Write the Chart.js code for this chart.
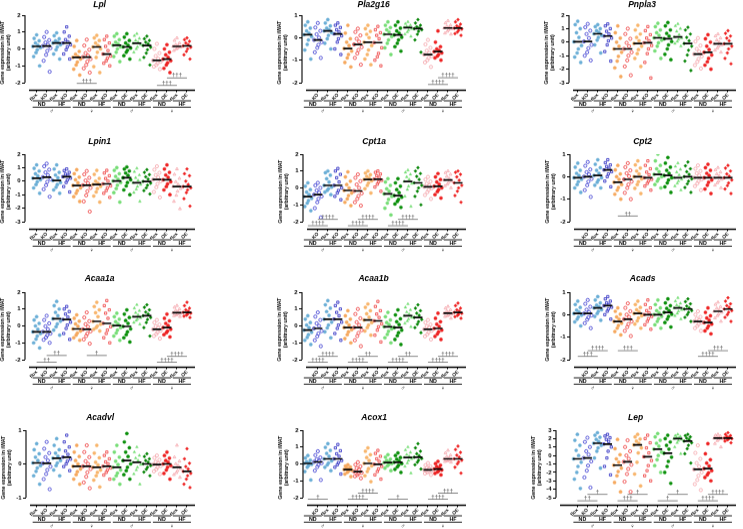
<!DOCTYPE html>
<html>
<head>
<meta charset="utf-8">
<script src="https://cdn.jsdelivr.net/npm/chart.js@4"></script>
<style>
  body { margin: 0; width: 743px; height: 529px; overflow: hidden; background: #fff; position: relative; }
</style>
</head>
<body>
<script>
// categories
const groupLabels = ['flox','KO','flox','KO','flox','KO','flox','KO','flox','OE','flox','OE','flox','OE','flox','OE'];
const dietLabels = ['ND', 'HF'];
const sexLabels = ['\u2642', '\u2640'];

// Lpl
const lplPts = [
  [0.83,0.62,0.48,0.35,0.22,0.15,0.08,-0.05,-0.22,-0.45,-1.0],
  [1.0,0.7,0.52,0.38,0.25,0.17,0.05,-0.12,-0.35,-0.7,-1.35],
  [0.95,0.78,0.6,0.48,0.4,0.35,0.25,0.12,-0.05,-0.3,-0.6],
  [1.3,1.0,0.75,0.55,0.42,0.35,0.25,0.12,-0.05,-0.3,-0.6],
  [0.5,0.15,-0.15,-0.32,-0.45,-0.5,-0.6,-0.78,-0.95,-1.2,-1.55],
  [0.55,0.2,-0.05,-0.25,-0.4,-0.48,-0.6,-0.75,-0.95,-1.15,-1.4],
  [0.8,0.65,0.5,0.35,0.2,0.12,0.0,-0.2,-0.5,-1.05,-1.4],
  [0.75,0.55,0.35,0.15,-0.1,-0.3,-0.42,-0.55,-0.7,-0.85,-1.0],
  [0.9,0.75,0.55,0.4,0.3,0.22,0.12,0.0,-0.2,-0.45,-0.75],
  [0.9,0.7,0.5,0.35,0.22,0.12,0.05,-0.08,-0.2,-0.4,-0.6],
  [0.9,0.78,0.62,0.5,0.4,0.33,0.25,0.12,0.0,-0.2,-0.65],
  [0.75,0.6,0.5,0.4,0.3,0.2,0.1,-0.05,-0.25,-0.5,-0.95],
  [0.3,0.0,-0.25,-0.42,-0.58,-0.68,-0.75,-0.85,-0.95,-1.05,-1.2],
  [0.25,0.0,-0.2,-0.35,-0.5,-0.6,-0.7,-0.82,-0.95,-1.15,-1.4],
  [0.65,0.5,0.35,0.25,0.18,0.15,0.1,0.05,0.0,-0.1],
  [0.65,0.55,0.45,0.35,0.25,0.18,0.1,0.0,-0.15,-0.35,-0.6]
];
const lplMed = [0.15,0.17,0.35,0.35,-0.5,-0.48,0.12,-0.3,0.22,0.12,0.33,0.2,-0.68,-0.6,0.15,0.18];
const lplSig = [[4,6,-2.04,'†††'],[12,14,-2.16,'†††'],[13,15,-1.72,'†††']];

// Pla2g16
const pla2g16Pts = [
  [0.7,0.55,0.42,0.3,0.2,0.13,0.05,-0.1,-0.3,-0.55,-0.95],
  [0.65,0.45,0.3,0.15,0.0,-0.1,-0.2,-0.32,-0.45,-0.65,-0.9],
  [0.8,0.65,0.52,0.42,0.35,0.3,0.22,0.1,-0.05,-0.25,-0.5],
  [0.65,0.55,0.45,0.35,0.25,0.17,0.08,-0.05,-0.2,-0.5,-0.75],
  [0.55,0.2,-0.05,-0.2,-0.35,-0.48,-0.6,-0.75,-0.9,-1.1,-1.3],
  [0.4,0.25,0.1,-0.05,-0.18,-0.3,-0.42,-0.55,-0.7,-0.9,-1.2],
  [0.55,0.4,0.28,0.15,0.0,-0.2,-0.35,-0.55,-0.75,-0.95,-1.2],
  [0.5,0.35,0.22,0.1,-0.05,-0.22,-0.45,-0.7,-0.85,-1.0,-1.25],
  [0.7,0.55,0.45,0.35,0.25,0.15,0.05,-0.1,-0.25,-0.45,-0.75],
  [0.7,0.55,0.42,0.3,0.2,0.12,0.02,-0.1,-0.25,-0.4,-0.6],
  [0.7,0.62,0.55,0.5,0.47,0.45,0.4,0.33,0.25,0.15,0.05],
  [0.8,0.65,0.55,0.48,0.43,0.4,0.35,0.28,0.15,-0.1,-0.65],
  [-0.1,-0.3,-0.45,-0.58,-0.68,-0.75,-0.82,-0.9,-1.0,-1.1,-1.3],
  [0.3,-0.2,-0.4,-0.5,-0.57,-0.62,-0.68,-0.75,-0.82,-0.9,-1.0],
  [0.75,0.65,0.55,0.5,0.45,0.43,0.4,0.35,0.28,0.2,0.15],
  [0.8,0.7,0.6,0.52,0.47,0.42,0.38,0.32,0.25,0.18,0.1]
];
const pla2g16Med = [0.13,-0.1,0.3,0.17,-0.48,-0.3,-0.2,-0.22,0.15,0.12,0.45,0.4,-0.75,-0.62,0.43,0.42];
const pla2g16Sig = [[12,14,-2.08,'††††'],[13,15,-1.78,'††††']];

// Pnpla3
const pnpla3Pts = [
  [1.55,1.3,1.0,0.7,0.35,0.03,-0.25,-0.5,-0.8,-1.1,-1.5],
  [1.35,1.1,0.85,0.6,0.3,0.05,-0.2,-0.45,-0.75,-1.0,-1.35],
  [1.3,1.15,1.0,0.85,0.72,0.62,0.5,0.35,0.15,-0.2,-0.8],
  [1.35,1.2,1.0,0.8,0.6,0.45,0.3,0.1,-0.2,-0.7,-1.4],
  [1.2,0.7,0.3,0.0,-0.3,-0.5,-0.75,-1.05,-1.4,-1.9,-2.55],
  [1.0,0.6,0.25,-0.05,-0.3,-0.5,-0.75,-1.0,-1.35,-1.8,-2.45],
  [1.25,0.9,0.6,0.35,0.1,-0.1,-0.3,-0.55,-0.85,-1.2,-1.8],
  [1.15,0.85,0.55,0.3,0.1,-0.05,-0.25,-0.5,-0.85,-1.5,-2.65],
  [1.4,1.15,0.9,0.7,0.5,0.32,0.15,-0.05,-0.3,-0.65,-1.2],
  [1.45,1.2,0.9,0.65,0.45,0.25,0.05,-0.2,-0.5,-0.9,-1.3],
  [1.35,1.2,1.0,0.8,0.55,0.38,0.3,0.2,0.05,-0.1,-0.3],
  [1.1,0.9,0.6,0.35,0.1,-0.1,-0.3,-0.6,-0.95,-1.4,-2.1],
  [0.3,0.05,-0.25,-0.5,-0.7,-0.88,-1.05,-1.25,-1.45,-1.7,-1.95],
  [0.55,0.25,0.0,-0.3,-0.55,-0.75,-0.95,-1.2,-1.45,-1.7,-2.0],
  [0.6,0.45,0.3,0.15,0.0,-0.12,-0.2,-0.3,-0.45,-0.6,-0.75],
  [0.85,0.65,0.45,0.3,0.1,-0.12,-0.3,-0.5,-0.8,-1.2,-1.6]
];
const pnpla3Med = [0.03,0.05,0.62,0.45,-0.5,-0.5,-0.1,-0.05,0.32,0.25,0.38,-0.1,-0.88,-0.75,-0.12,-0.12];
const pnpla3Sig = [];

// Lpin1
const lpin1Pts = [
  [1.2,0.95,0.75,0.55,0.38,0.22,0.1,-0.05,-0.25,-0.5,-0.9],
  [1.3,1.1,0.85,0.65,0.45,0.3,0.15,-0.05,-0.3,-0.6,-1.15],
  [1.2,0.9,0.65,0.45,0.25,0.05,-0.1,-0.25,-0.45,-0.65,-0.9],
  [0.9,0.78,0.65,0.52,0.42,0.33,0.22,0.08,-0.1,-0.4,-0.8],
  [0.85,0.55,0.3,0.1,-0.12,-0.32,-0.5,-0.7,-0.9,-1.15,-1.5],
  [0.75,0.5,0.25,0.05,-0.15,-0.3,-0.5,-0.75,-1.05,-1.5,-2.25],
  [0.8,0.5,0.2,0.0,-0.15,-0.25,-0.38,-0.55,-0.8,-1.1,-1.55],
  [0.8,0.6,0.4,0.2,0.0,-0.2,-0.35,-0.5,-0.7,-0.9,-1.2],
  [1.0,0.8,0.55,0.35,0.15,0.02,-0.1,-0.3,-0.55,-0.85,-1.55],
  [1.05,0.9,0.75,0.6,0.42,0.25,0.1,-0.1,-0.35,-0.65,-1.0],
  [0.95,0.7,0.45,0.25,0.05,-0.12,-0.25,-0.4,-0.6,-0.85,-1.5],
  [0.85,0.65,0.48,0.32,0.15,-0.02,-0.15,-0.3,-0.5,-0.7,-0.95],
  [1.1,0.85,0.62,0.45,0.28,0.12,0.0,-0.2,-0.45,-0.8,-1.2],
  [1.2,0.9,0.65,0.45,0.28,0.1,-0.05,-0.2,-0.4,-0.65,-1.0],
  [0.9,0.5,0.2,-0.05,-0.25,-0.4,-0.55,-0.75,-1.05,-1.5,-2.05],
  [0.9,0.55,0.4,0.0,-0.25,-0.4,-0.5,-0.65,-0.85,-1.3,-1.85]
];
const lpin1Med = [0.22,0.3,0.05,0.33,-0.32,-0.3,-0.25,-0.2,0.02,0.25,-0.12,-0.02,0.12,0.1,-0.4,-0.4];
const lpin1Sig = [];

// Cpt1a
const cpt1aPts = [
  [0.3,0.1,-0.1,-0.25,-0.4,-0.52,-0.62,-0.75,-0.9,-1.1,-1.35],
  [0.3,0.15,0.0,-0.15,-0.28,-0.4,-0.5,-0.65,-0.85,-1.2,-1.75],
  [1.0,0.9,0.75,0.55,0.35,0.15,0.05,-0.05,-0.15,-0.25,-0.4],
  [1.15,1.0,0.8,0.6,0.35,0.15,0.0,-0.15,-0.3,-0.5,-0.7],
  [0.95,0.65,0.4,0.2,0.0,-0.15,-0.3,-0.45,-0.65,-0.85,-1.05],
  [0.8,0.6,0.4,0.2,0.0,-0.18,-0.32,-0.48,-0.65,-0.85,-1.05],
  [1.0,0.88,0.78,0.68,0.58,0.5,0.42,0.3,0.15,-0.05,-0.3],
  [1.0,0.92,0.82,0.72,0.62,0.52,0.45,0.35,0.22,0.05,-0.2],
  [0.55,0.35,0.15,-0.05,-0.2,-0.35,-0.5,-0.68,-0.9,-1.2,-1.6],
  [0.55,0.3,0.1,-0.1,-0.28,-0.45,-0.55,-0.68,-0.8,-0.95,-1.15],
  [1.05,0.92,0.8,0.65,0.5,0.38,0.25,0.1,-0.1,-0.5,-1.1],
  [1.2,1.0,0.85,0.68,0.5,0.3,0.15,0.0,-0.2,-0.5,-1.0],
  [0.65,0.5,0.38,0.25,0.15,0.07,-0.02,-0.12,-0.25,-0.42,-0.65],
  [0.85,0.65,0.5,0.35,0.22,0.1,0.0,-0.1,-0.22,-0.4,-0.6],
  [1.0,0.9,0.8,0.68,0.55,0.47,0.4,0.32,0.22,0.12,0.0],
  [1.0,0.92,0.8,0.65,0.45,0.3,0.15,0.0,-0.2,-0.45,-0.85]
];
const cpt1aMed = [-0.52,-0.4,0.15,0.15,-0.15,-0.18,0.5,0.52,-0.35,-0.45,0.38,0.3,0.07,0.1,0.47,0.3];
const cpt1aSig = [[1,3,-1.86,'††††'],[0,2,-2.24,'††††'],[5,7,-1.86,'††††'],[4,6,-2.24,'††††'],[9,11,-1.86,'††††'],[8,10,-2.24,'††††']];

// Cpt2
const cpt2Pts = [
  [0.6,0.42,0.28,0.15,0.05,-0.05,-0.12,-0.22,-0.35,-0.5,-0.7],
  [0.65,0.48,0.32,0.2,0.1,0.0,-0.1,-0.22,-0.38,-0.6,-0.9],
  [0.75,0.55,0.4,0.28,0.15,0.05,-0.05,-0.15,-0.25,-0.38,-0.5],
  [0.75,0.62,0.52,0.45,0.37,0.3,0.22,0.12,0.0,-0.2,-0.45],
  [0.5,0.3,0.12,0.0,-0.12,-0.25,-0.35,-0.48,-0.6,-0.78,-1.0],
  [0.6,0.42,0.28,0.15,0.02,-0.12,-0.22,-0.35,-0.5,-0.72,-1.0],
  [0.7,0.52,0.38,0.25,0.12,0.0,-0.1,-0.22,-0.35,-0.52,-0.75],
  [0.7,0.5,0.35,0.2,0.08,-0.05,-0.12,-0.2,-0.3,-0.42,-0.6],
  [1.0,0.7,0.5,0.35,0.22,0.1,0.0,-0.1,-0.2,-0.35,-0.5],
  [0.85,0.6,0.42,0.28,0.15,0.05,-0.05,-0.15,-0.28,-0.45,-0.7],
  [0.6,0.45,0.32,0.2,0.07,-0.05,-0.12,-0.2,-0.3,-0.42,-0.6],
  [0.65,0.48,0.35,0.22,0.1,0.0,-0.1,-0.2,-0.32,-0.48,-0.7],
  [0.5,0.35,0.25,0.15,0.05,-0.05,-0.12,-0.2,-0.3,-0.42,-0.6],
  [0.55,0.4,0.28,0.15,0.05,-0.05,-0.15,-0.25,-0.38,-0.55,-0.75],
  [0.4,0.3,0.2,0.12,0.03,-0.05,-0.12,-0.2,-0.28,-0.38,-0.5],
  [0.5,0.38,0.25,0.12,0.02,-0.05,-0.15,-0.28,-0.4,-0.55,-0.75]
];
const cpt2Med = [-0.05,0.0,0.05,0.3,-0.25,-0.12,0.0,-0.05,0.1,0.05,-0.05,0.0,-0.05,-0.05,-0.05,-0.05];
const cpt2Sig = [[4,6,-1.75,'††']];

// Acaa1a
const acaa1aPts = [
  [0.55,0.35,0.15,0.0,-0.2,-0.35,-0.45,-0.6,-0.78,-1.0,-1.3],
  [0.6,0.35,0.15,-0.02,-0.2,-0.35,-0.45,-0.55,-0.68,-0.82,-1.0],
  [1.45,1.2,1.0,0.8,0.6,0.42,0.28,0.12,-0.05,-0.25,-0.55],
  [1.15,1.0,0.85,0.7,0.52,0.38,0.22,0.05,-0.15,-0.45,-0.8],
  [0.65,0.45,0.28,0.12,-0.02,-0.18,-0.3,-0.42,-0.55,-0.7,-0.85],
  [0.8,0.5,0.28,0.1,-0.05,-0.2,-0.32,-0.45,-0.6,-0.8,-1.05],
  [1.4,1.15,0.95,0.78,0.55,0.27,0.1,0.0,-0.1,-0.2,-0.3],
  [1.5,1.2,0.95,0.75,0.45,0.15,-0.05,-0.25,-0.45,-0.7,-1.0],
  [0.75,0.55,0.4,0.25,0.12,0.02,-0.1,-0.25,-0.42,-0.6,-0.85],
  [0.95,0.7,0.5,0.32,0.15,-0.03,-0.18,-0.35,-0.52,-0.7,-0.95],
  [1.25,1.05,0.9,0.78,0.65,0.55,0.48,0.4,0.32,0.2,0.1],
  [1.25,1.1,0.95,0.82,0.7,0.6,0.5,0.38,0.2,-0.1,-0.6],
  [0.35,0.2,0.08,-0.02,-0.12,-0.2,-0.28,-0.38,-0.48,-0.6,-0.75],
  [0.7,0.45,0.3,0.15,0.02,-0.1,-0.2,-0.3,-0.4,-0.52,-0.65],
  [1.2,1.1,1.0,0.92,0.84,0.78,0.75,0.7,0.65,0.6,0.55],
  [1.4,1.2,1.05,0.95,0.87,0.8,0.75,0.7,0.64,0.58,0.5]
];
const acaa1aMed = [-0.35,-0.35,0.42,0.38,-0.18,-0.2,0.27,0.15,0.02,-0.03,0.55,0.6,-0.2,-0.1,0.78,0.8];
const acaa1aSig = [[1,3,-1.75,'††'],[0,2,-2.15,'††'],[5,7,-1.75,'†'],[12,14,-2.15,'††††'],[13,15,-1.8,'††††']];

// Acaa1b
const acaa1bPts = [
  [0.6,0.4,0.2,0.05,-0.1,-0.25,-0.38,-0.52,-0.68,-0.85,-1.1],
  [0.8,0.55,0.35,0.15,0.0,-0.15,-0.3,-0.45,-0.62,-0.85,-1.2],
  [1.5,1.25,1.05,0.85,0.62,0.4,0.22,0.05,-0.12,-0.35,-0.7],
  [1.4,1.2,1.0,0.8,0.6,0.4,0.22,0.05,-0.15,-0.45,-0.85],
  [0.9,0.6,0.4,0.22,0.05,-0.1,-0.22,-0.35,-0.52,-0.75,-1.0],
  [1.0,0.7,0.45,0.22,0.05,-0.1,-0.25,-0.42,-0.6,-0.85,-1.2],
  [1.3,1.1,0.9,0.72,0.52,0.35,0.2,0.05,-0.1,-0.3,-0.55],
  [1.45,1.15,0.9,0.7,0.5,0.3,0.12,-0.05,-0.25,-0.55,-0.95],
  [0.8,0.55,0.35,0.2,0.08,-0.05,-0.18,-0.32,-0.5,-0.7,-1.0],
  [0.95,0.65,0.42,0.25,0.08,-0.1,-0.25,-0.4,-0.58,-0.8,-1.1],
  [1.3,1.1,0.95,0.82,0.7,0.6,0.5,0.4,0.28,0.15,-0.05],
  [1.25,1.05,0.9,0.75,0.62,0.5,0.38,0.25,0.1,-0.1,-0.4],
  [0.35,0.2,0.08,-0.02,-0.1,-0.2,-0.28,-0.38,-0.5,-0.62,-0.8],
  [0.75,0.45,0.25,0.1,-0.03,-0.15,-0.25,-0.35,-0.48,-0.62,-0.8],
  [1.15,1.05,0.95,0.88,0.8,0.75,0.7,0.65,0.6,0.55,0.45],
  [1.35,1.2,1.05,0.95,0.88,0.8,0.74,0.68,0.62,0.55,0.45]
];
const acaa1bMed = [-0.25,-0.15,0.4,0.4,-0.1,-0.1,0.35,0.3,-0.05,-0.1,0.6,0.5,-0.2,-0.15,0.75,0.8];
const acaa1bSig = [[0,2,-2.15,'††††'],[1,3,-1.8,'††††'],[4,6,-2.15,'††††'],[5,7,-1.8,'††'],[8,10,-2.15,'††††'],[9,11,-1.8,'††'],[12,14,-2.15,'††††'],[13,15,-1.8,'††††']];

// Acads
const acadsPts = [
  [0.6,0.45,0.32,0.2,0.12,0.05,-0.02,-0.1,-0.2,-0.32,-0.5],
  [0.65,0.48,0.35,0.22,0.12,0.05,-0.03,-0.12,-0.22,-0.38,-0.6],
  [0.8,0.65,0.52,0.42,0.35,0.3,0.22,0.15,0.05,-0.08,-0.25],
  [0.8,0.7,0.6,0.52,0.45,0.4,0.33,0.25,0.15,0.0,-0.2],
  [0.3,0.15,0.02,-0.1,-0.2,-0.3,-0.38,-0.48,-0.6,-0.75,-0.9],
  [0.5,0.3,0.15,0.0,-0.1,-0.2,-0.3,-0.42,-0.55,-0.72,-0.95],
  [0.6,0.45,0.32,0.22,0.12,0.05,-0.05,-0.15,-0.28,-0.42,-0.6],
  [0.65,0.45,0.3,0.18,0.08,0.0,-0.08,-0.18,-0.3,-0.45,-0.65],
  [0.65,0.45,0.3,0.18,0.08,0.0,-0.08,-0.18,-0.3,-0.45,-0.6],
  [0.7,0.52,0.4,0.28,0.18,0.1,0.02,-0.08,-0.2,-0.35,-0.55],
  [0.75,0.6,0.5,0.42,0.35,0.3,0.22,0.15,0.05,-0.05,-0.2],
  [0.7,0.58,0.48,0.38,0.3,0.25,0.18,0.1,0.0,-0.12,-0.3],
  [0.15,0.0,-0.1,-0.18,-0.25,-0.3,-0.35,-0.42,-0.5,-0.6,-0.72],
  [0.3,0.1,-0.05,-0.15,-0.25,-0.35,-0.42,-0.5,-0.6,-0.72,-0.85],
  [0.55,0.45,0.35,0.28,0.2,0.15,0.1,0.02,-0.05,-0.15,-0.3],
  [0.75,0.6,0.48,0.4,0.32,0.25,0.18,0.1,0.0,-0.12,-0.3]
];
const acadsMed = [0.05,0.05,0.3,0.4,-0.3,-0.2,0.05,0.0,0.0,0.1,0.3,0.25,-0.3,-0.35,0.15,0.25];
const acadsSig = [[0,2,-1.85,'†††'],[1,3,-1.6,'††††'],[4,6,-1.6,'†††'],[12,14,-1.85,'††††'],[13,15,-1.6,'†††']];

// Acadvl
const acadvlPts = [
  [0.6,0.42,0.3,0.2,0.1,0.03,-0.05,-0.12,-0.22,-0.35,-0.6],
  [0.65,0.45,0.32,0.2,0.1,0.02,-0.08,-0.18,-0.3,-0.45,-0.75],
  [0.75,0.55,0.42,0.32,0.23,0.17,0.1,0.03,-0.05,-0.18,-0.35],
  [0.85,0.65,0.5,0.38,0.28,0.2,0.14,0.08,0.0,-0.08,-0.2],
  [0.55,0.35,0.22,0.1,0.0,-0.07,-0.15,-0.23,-0.32,-0.45,-0.6],
  [0.55,0.35,0.2,0.08,0.0,-0.07,-0.15,-0.25,-0.38,-0.55,-0.72],
  [0.55,0.32,0.18,0.05,-0.03,-0.1,-0.18,-0.25,-0.35,-0.48,-0.68],
  [0.35,0.25,0.15,0.06,0.0,-0.07,-0.12,-0.18,-0.25,-0.33,-0.45],
  [0.55,0.35,0.2,0.08,-0.02,-0.1,-0.18,-0.27,-0.35,-0.45,-0.6],
  [0.9,0.65,0.48,0.35,0.22,0.1,0.0,-0.1,-0.2,-0.32,-0.45],
  [0.5,0.35,0.25,0.17,0.1,0.05,-0.02,-0.1,-0.18,-0.3,-0.6],
  [0.3,0.22,0.15,0.1,0.05,0.0,-0.05,-0.1,-0.16,-0.24,-0.35],
  [0.25,0.18,0.12,0.06,0.02,-0.02,-0.06,-0.1,-0.16,-0.22,-0.3],
  [0.35,0.25,0.17,0.1,0.05,0.0,-0.05,-0.1,-0.18,-0.28,-0.45],
  [0.55,0.2,0.08,0.0,-0.05,-0.1,-0.14,-0.2,-0.26,-0.32,-0.4],
  [0.45,0.15,0.02,-0.08,-0.15,-0.22,-0.28,-0.35,-0.45,-0.6,-0.7]
];
const acadvlMed = [0.03,0.02,0.17,0.2,-0.07,-0.07,-0.1,-0.07,-0.1,0.1,0.05,0.0,-0.02,0.0,-0.1,-0.22];
const acadvlSig = [];

// Acox1
const acox1Pts = [
  [0.5,0.35,0.22,0.13,0.07,0.03,-0.03,-0.1,-0.2,-0.45,-0.95],
  [0.75,0.52,0.38,0.27,0.18,0.12,0.05,-0.05,-0.18,-0.4,-0.95],
  [1.2,0.98,0.8,0.62,0.45,0.3,0.18,0.06,-0.06,-0.2,-0.4],
  [1.15,0.95,0.78,0.6,0.45,0.3,0.2,0.08,-0.05,-0.2,-0.6],
  [-0.05,-0.12,-0.18,-0.24,-0.29,-0.33,-0.38,-0.43,-0.5,-0.6,-0.75],
  [0.1,-0.05,-0.15,-0.25,-0.35,-0.45,-0.52,-0.58,-0.65,-0.73,-0.85],
  [0.95,0.75,0.55,0.38,0.2,0.03,-0.12,-0.28,-0.45,-0.7,-1.05],
  [0.8,0.62,0.45,0.3,0.15,-0.02,-0.15,-0.3,-0.45,-0.65,-0.9],
  [0.55,0.4,0.28,0.2,0.13,0.08,0.02,-0.05,-0.12,-0.25,-0.4],
  [0.65,0.5,0.38,0.28,0.18,0.1,0.02,-0.08,-0.18,-0.32,-0.5],
  [1.0,0.82,0.68,0.55,0.45,0.38,0.3,0.2,0.05,-0.15,-0.55],
  [1.2,0.95,0.75,0.6,0.48,0.4,0.32,0.22,0.1,-0.05,-0.3],
  [0.05,-0.08,-0.15,-0.22,-0.28,-0.35,-0.4,-0.45,-0.5,-0.57,-0.65],
  [0.15,0.02,-0.08,-0.16,-0.23,-0.3,-0.36,-0.42,-0.48,-0.56,-0.65],
  [0.8,0.65,0.52,0.43,0.35,0.3,0.26,0.22,0.18,0.14,0.1],
  [1.05,0.85,0.68,0.52,0.4,0.3,0.22,0.12,0.0,-0.2,-0.55]
];
const acox1Med = [0.03,0.12,0.3,0.3,-0.33,-0.45,0.03,-0.02,0.08,0.1,0.38,0.4,-0.35,-0.3,0.3,0.3];
const acox1Sig = [[0,2,-2.09,'†'],[4,6,-2.09,'††††'],[5,7,-1.73,'††††'],[8,10,-2.09,'†'],[12,14,-2.09,'††††'],[13,15,-1.73,'†††']];

// Lep
const lepPts = [
  [2.5,1.8,1.2,0.6,0.0,-0.4,-0.8,-1.3,-2.0,-2.8,-3.9],
  [2.1,1.6,1.0,0.5,0.1,-0.3,-0.7,-1.2,-1.8,-2.6,-3.8],
  [2.7,2.4,2.15,1.9,1.65,1.45,1.2,0.9,0.5,-0.3,-1.5],
  [2.5,2.3,2.1,1.9,1.65,1.35,1.0,0.5,-0.3,-1.3,-2.3],
  [1.9,0.8,0.1,-0.4,-0.8,-1.15,-1.5,-1.9,-2.4,-3.2,-4.3],
  [1.8,1.0,0.5,0.0,-0.4,-0.75,-1.1,-1.6,-2.2,-3.1,-4.3],
  [2.5,2.2,1.95,1.7,1.45,1.25,0.9,0.3,-0.8,-2.2,-3.6],
  [2.4,2.0,1.5,0.9,0.3,-0.15,-0.6,-1.2,-1.8,-2.4,-3.0],
  [2.6,2.2,1.8,1.45,1.1,0.75,0.4,0.0,-0.5,-1.2,-2.0],
  [2.4,2.0,1.6,1.2,0.75,0.28,-0.2,-0.7,-1.3,-2.0,-3.3],
  [2.5,2.35,2.25,2.15,2.08,2.0,1.9,1.75,1.5,1.0,0.2],
  [2.5,2.35,2.2,2.05,1.9,1.7,1.5,1.2,0.8,0.2,-0.9],
  [1.2,0.3,-0.4,-0.9,-1.3,-1.65,-2.0,-2.4,-2.9,-3.4,-4.1],
  [1.4,0.2,-0.5,-0.9,-1.25,-1.55,-1.8,-2.05,-2.3,-2.6,-3.0],
  [2.5,2.38,2.28,2.2,2.12,2.05,2.0,1.9,1.75,1.4,1.0],
  [2.7,2.5,2.35,2.25,2.15,2.05,2.0,1.95,1.85,1.7,1.5]
];
const lepMed = [-0.4,-0.3,1.45,1.35,-1.15,-0.75,1.25,-0.15,0.75,0.28,2.0,1.7,-1.65,-1.55,2.05,2.05];
const lepSig = [[0,2,-5.37,'††'],[1,3,-4.6,'†'],[4,6,-5.37,'†††'],[5,7,-4.6,'†'],[8,10,-5.37,'†'],[9,11,-4.6,'†'],[12,14,-5.37,'††††'],[13,15,-4.6,'††††']];

// group styling
const groupColor = ['#6aaed6','#3a3ad0','#6aaed6','#2626c0','#f6a85e','#ee3b3b','#f8b56c','#ee3b3b',
                    '#76dd76','#0a8f0a','#76dd76','#078507','#f5a3aa','#ee2222','#f5a3aa','#ee2222'];
const groupShape = ['circle','circle','circle','rect','circle','circle','circle','rect',
                    'circle','circle','triangle','rectRot','circle','circle','triangle','rectRot'];
const groupFilled = [true,false,true,false,true,false,true,false,true,true,true,true,false,true,false,true];
const jitter = [0,-0.25,0.25,-0.12,0.12,-0.38,0.38,0.06,-0.06,-0.3,0.3,0.18];

const FF = '"Liberation Sans", "DejaVu Sans", Arial, sans-serif';
const UNIT = 10.33, YBOX = 26, TOPBOX = 17, PLOTH = 74.5, XBOX = 36;

const panels = [
  {title: 'Lpl',     pts: lplPts,     med: lplMed,     sig: lplSig,     yMax: 2, yMin: -2, axis: 25,  g0: 37,  top: 15,  tgap: 10.5},
  {title: 'Pla2g16', pts: pla2g16Pts, med: pla2g16Med, sig: pla2g16Sig, yMax: 1, yMin: -2, axis: 302, g0: 308, top: 15,  tgap: 10.5},
  {title: 'Pnpla3',  pts: pnpla3Pts,  med: pnpla3Med,  sig: pnpla3Sig,  yMax: 2, yMin: -3, axis: 569, g0: 578, top: 15,  tgap: 10.5},
  {title: 'Lpin1',   pts: lpin1Pts,   med: lpin1Med,   sig: lpin1Sig,   yMax: 2, yMin: -3, axis: 25,  g0: 37,  top: 154, tgap: 12},
  {title: 'Cpt1a',   pts: cpt1aPts,   med: cpt1aMed,   sig: cpt1aSig,   yMax: 2, yMin: -2, axis: 303, g0: 308, top: 154, tgap: 12},
  {title: 'Cpt2',    pts: cpt2Pts,    med: cpt2Med,    sig: cpt2Sig,    yMax: 1, yMin: -2, axis: 570, g0: 578, top: 154, tgap: 12},
  {title: 'Acaa1a',  pts: acaa1aPts,  med: acaa1aMed,  sig: acaa1aSig,  yMax: 2, yMin: -2, axis: 25,  g0: 37,  top: 292, tgap: 13},
  {title: 'Acaa1b',  pts: acaa1bPts,  med: acaa1bMed,  sig: acaa1bSig,  yMax: 2, yMin: -2, axis: 302, g0: 308, top: 292, tgap: 13},
  {title: 'Acads',   pts: acadsPts,   med: acadsMed,   sig: acadsSig,   yMax: 1, yMin: -2, axis: 570, g0: 578, top: 292, tgap: 13},
  {title: 'Acadvl',  pts: acadvlPts,  med: acadvlMed,  sig: acadvlSig,  yMax: 1, yMin: -1, axis: 26,  g0: 37,  top: 430, tgap: 12.7},
  {title: 'Acox1',   pts: acox1Pts,   med: acox1Med,   sig: acox1Sig,   yMax: 2, yMin: -2, axis: 303, g0: 308, top: 430, tgap: 12.7},
  {title: 'Lep',     pts: lepPts,     med: lepMed,     sig: lepSig,     yMax: 3, yMin: -5, axis: 556, g0: 578, top: 430, tgap: 12.7}
];

function isWhole(v) { return Math.abs(v - Math.round(v)) < 1e-6; }

function makeDatasets(p) {
  const ds = [{
    data: p.med.map((m, g) => ({x: g, y: m})),
    pointStyle: 'line', pointRadius: 4.5, pointBorderColor: '#000', pointBorderWidth: 1.7, order: 0
  }];
  p.pts.forEach((vals, g) => {
    ds.push({
      data: vals.map((v, i) => ({x: g + jitter[i % jitter.length], y: v})),
      pointStyle: groupShape[g],
      pointRadius: 1.6,
      pointBackgroundColor: groupFilled[g] ? groupColor[g] : 'rgba(255,255,255,0)',
      pointBorderColor: groupColor[g],
      pointBorderWidth: groupFilled[g] ? 0.4 : 0.8,
      order: 1
    });
  });
  return ds;
}

panels.forEach(p => {
  const xMin = -(p.g0 - p.axis) / UNIT, xMax = 15.8;
  const w = YBOX + (xMax - xMin) * UNIT + 1;
  const h = TOPBOX + PLOTH + XBOX;
  const yLow = p.yMax - (p.yMax - p.yMin) * PLOTH / 67;
  const titleTop = TOPBOX - p.tgap - 8.5 * 0.6;

  const div = document.createElement('div');
  div.style.cssText = 'position:absolute;left:' + (p.axis - YBOX) + 'px;top:' + (p.top - TOPBOX) +
    'px;width:' + w + 'px;height:' + h + 'px';
  const cv = document.createElement('canvas');
  div.appendChild(cv);
  document.body.appendChild(div);

  // axes lines, significance bars and group labels
  const decor = {
    id: 'decor',
    afterDraw(chart) {
      const {ctx, chartArea: a, scales: {x, y}} = chart;
      ctx.save();
      ctx.strokeStyle = '#000';
      ctx.lineWidth = 1.1;
      ctx.beginPath();
      ctx.moveTo(a.left, y.getPixelForValue(p.yMax));
      ctx.lineTo(a.left, y.getPixelForValue(p.yMin));
      ctx.stroke();
      ctx.lineWidth = 1.6;
      ctx.beginPath();
      ctx.moveTo(a.left + 4, a.bottom);
      ctx.lineTo(a.right, a.bottom);
      ctx.stroke();

      ctx.textAlign = 'center';
      p.sig.forEach(([g1, g2, v, t]) => {
        const py = y.getPixelForValue(v);
        ctx.strokeStyle = '#888';
        ctx.lineWidth = 1;
        ctx.beginPath();
        ctx.moveTo(x.getPixelForValue(g1), py);
        ctx.lineTo(x.getPixelForValue(g2), py);
        ctx.stroke();
        ctx.fillStyle = '#444';
        ctx.font = '6px ' + FF;
        ctx.textBaseline = 'bottom';
        ctx.fillText(t, (x.getPixelForValue(g1) + x.getPixelForValue(g2)) / 2, py + 0.5);
      });

      ctx.strokeStyle = '#000';
      ctx.fillStyle = '#000';
      ctx.lineWidth = 0.9;
      ctx.textBaseline = 'middle';
      ctx.font = 'bold 5.3px ' + FF;
      for (let k = 0; k < 8; k++) {
        const x1 = x.getPixelForValue(2 * k) - 4, x2 = x.getPixelForValue(2 * k + 1) + 4;
        ctx.beginPath();
        ctx.moveTo(x1, a.bottom + 10.5);
        ctx.lineTo(x2, a.bottom + 10.5);
        ctx.stroke();
        ctx.fillText(dietLabels[k % 2], (x1 + x2) / 2, a.bottom + 13.8);
      }
      ctx.font = '6px ' + FF;
      for (let k = 0; k < 4; k++) {
        const x1 = x.getPixelForValue(4 * k) - 4, x2 = x.getPixelForValue(4 * k + 3) + 4;
        ctx.beginPath();
        ctx.moveTo(x1, a.bottom + 16.8);
        ctx.lineTo(x2, a.bottom + 16.8);
        ctx.stroke();
        ctx.fillText(sexLabels[k % 2], (x1 + x2) / 2, a.bottom + 20.5);
      }
      ctx.restore();
    }
  };

  new Chart(cv, {
    type: 'scatter',
    data: {datasets: makeDatasets(p)},
    options: {
      responsive: true,
      maintainAspectRatio: false,
      animation: false,
      layout: {padding: {left: 0, right: 1, top: 0, bottom: 0}},
      plugins: {
        legend: {display: false},
        tooltip: {enabled: false},
        title: {
          display: true, text: p.title, color: '#000',
          font: {family: FF, size: 8.5, style: 'italic', weight: 'bold'},
          padding: {top: titleTop, bottom: TOPBOX - titleTop - 8.5 * 1.2}
        }
      },
      scales: {
        x: {
          type: 'linear', min: xMin, max: xMax,
          afterFit: s => { s.height = XBOX; },
          afterBuildTicks: s => { s.ticks = s.ticks.filter(t => isWhole(t.value) && t.value >= 0 && t.value <= 15); },
          border: {display: false},
          grid: {display: true, drawOnChartArea: false, drawTicks: true, tickLength: 2, color: '#000', lineWidth: 1},
          ticks: {
            stepSize: 1, autoSkip: false, minRotation: 45, maxRotation: 45, padding: 0,
            color: '#111', font: {family: FF, size: 4.8, weight: 'bold'},
            callback: v => groupLabels[Math.round(v)]
          }
        },
        y: {
          min: yLow, max: p.yMax,
          afterFit: s => { s.width = YBOX; },
          afterBuildTicks: s => { s.ticks = s.ticks.filter(t => isWhole(t.value) && t.value >= p.yMin && t.value <= p.yMax); },
          border: {display: false},
          grid: {display: true, drawOnChartArea: false, drawTicks: true, tickLength: 3, color: '#000', lineWidth: 1},
          ticks: {stepSize: 1, autoSkip: false, padding: 1.5, color: '#000', font: {family: FF, size: 6, weight: 'bold'}},
          title: {
            display: true, text: ['Gene expression in iWAT', '(arbitrary unit)'], color: '#000',
            font: {family: FF, size: 5.3, weight: 'bold', lineHeight: 1.15}, padding: {top: 0, bottom: 0}
          }
        }
      }
    },
    plugins: [decor]
  });
});
</script>
</body>
</html>
